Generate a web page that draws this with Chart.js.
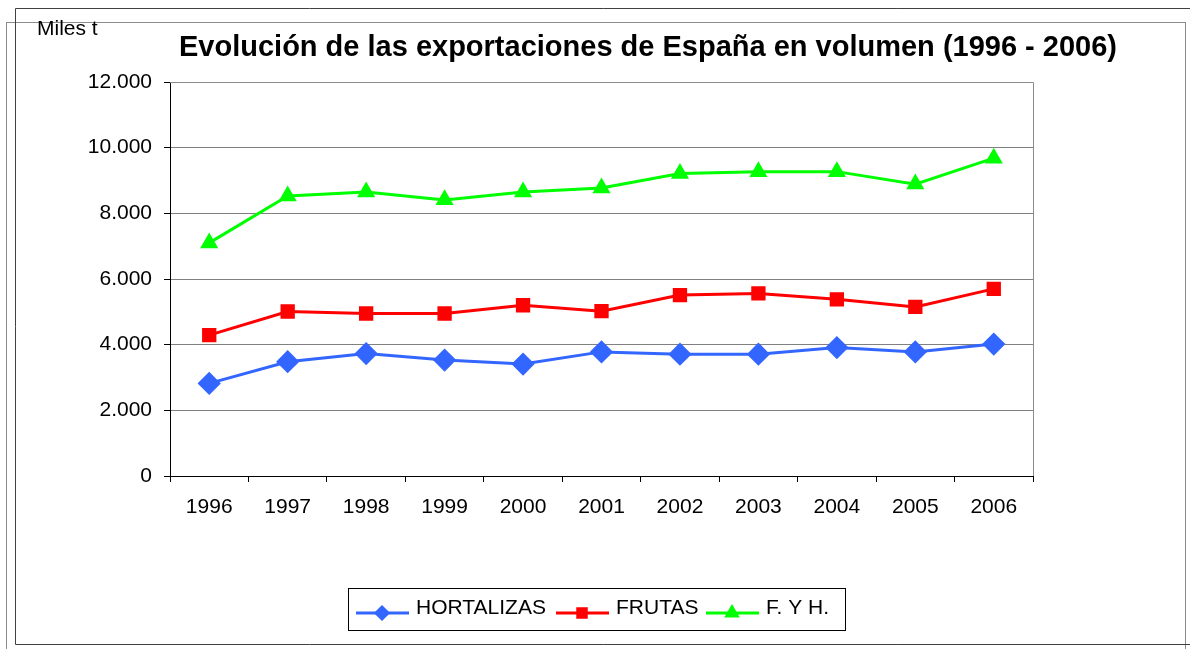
<!DOCTYPE html>
<html>
<head>
<meta charset="utf-8">
<script src="https://cdn.jsdelivr.net/npm/chart.js@4.4.0/dist/chart.umd.min.js"></script>
<style>
  html, body { margin: 0; padding: 0; background: #fff; }
  canvas { display: block; }
</style>
</head>
<body>
<canvas id="exportChart" width="1190" height="649"></canvas>
<script>
const years = ["1996", "1997", "1998", "1999", "2000", "2001", "2002", "2003", "2004", "2005", "2006"];
const hortalizas = [2820, 3480, 3730, 3530, 3410, 3780, 3710, 3710, 3910, 3780, 4020];
const frutas = [4290, 5010, 4950, 4950, 5200, 5020, 5510, 5560, 5380, 5150, 5700];
const fyh = [7100, 8530, 8650, 8410, 8650, 8770, 9210, 9270, 9270, 8890, 9680];

const titleText = "Evolución de las exportaciones de España en volumen (1996 - 2006)";
const unitText = "Miles t";

const fontFamily = "'Liberation Sans', Arial, sans-serif";

// thousands with a dot, like the spanish sheet
const fmt = v => String(v).replace(/\B(?=(\d{3})+(?!\d))/g, ".");

// frames, title, unit label and the boxed legend
const decor = {
    id: "decor",
    beforeDraw(chart) {
        const c = chart.ctx;
        c.save();
        c.lineWidth = 1;
        c.strokeStyle = "#8c8c8c";
        c.strokeRect(6.5, 22.5, 1179, 640);
        c.strokeStyle = "#404040";
        c.beginPath();
        c.moveTo(1195, 8.5); c.lineTo(15.5, 8.5); c.lineTo(15.5, 644.5); c.lineTo(1195, 644.5);
        c.stroke();
        c.restore();
    },
    afterDraw(chart) {
        const c = chart.ctx;
        const area = chart.chartArea;
        c.save();
        // top and right of the plot box
        c.strokeStyle = "#8c8c8c";
        c.lineWidth = 1;
        c.beginPath();
        c.moveTo(area.left, area.top + 0.5);
        c.lineTo(area.right + 0.5, area.top + 0.5);
        c.lineTo(area.right + 0.5, area.bottom);
        c.stroke();

        c.fillStyle = "#000";
        c.textBaseline = "middle";
        c.textAlign = "center";
        c.font = "bold 29px " + fontFamily;
        c.fillText(titleText, 648, 48);
        c.textAlign = "left";
        c.font = "21px " + fontFamily;
        c.fillText(unitText, 37, 29);

        // legend
        c.strokeStyle = "#000";
        c.strokeRect(348.5, 588.5, 497, 42);
        const starts = [356, 556, 706];
        c.font = "21px " + fontFamily;
        chart.data.datasets.forEach((ds, i) => {
            const x0 = starts[i];
            const y = 613;
            c.strokeStyle = ds.borderColor;
            c.lineWidth = 3;
            c.beginPath();
            c.moveTo(x0, y);
            c.lineTo(x0 + 53, y);
            c.stroke();
            c.fillStyle = ds.pointBackgroundColor;
            c.strokeStyle = ds.pointBorderColor;
            Chart.helpers.drawPoint(c, {
                pointStyle: ds.pointStyle,
                radius: ds.legendRadius,
                rotation: 0,
                borderWidth: 1
            }, x0 + 26, y);
            c.fillStyle = "#000";
            c.fillText(ds.label, x0 + 60, 608);
        });
        c.restore();
    }
};

const ctx = document.getElementById("exportChart").getContext("2d");
const exportChart = new Chart(ctx, {
    type: "line",
    data: {
        labels: years,
        datasets: [
            {
                label: "HORTALIZAS",
                data: hortalizas,
                borderColor: "#3366ff",
                pointBackgroundColor: "#3366ff",
                pointBorderColor: "#3366ff",
                pointStyle: "rectRot",
                pointRadius: 9.5,
                legendRadius: 6,
                borderWidth: 3
            },
            {
                label: "FRUTAS",
                data: frutas,
                borderColor: "#ff0000",
                pointBackgroundColor: "#ff0000",
                pointBorderColor: "#ff0000",
                pointStyle: "rect",
                pointRadius: 8,
                legendRadius: 6,
                borderWidth: 3
            },
            {
                label: "F. Y H.",
                data: fyh,
                borderColor: "#00ff00",
                pointBackgroundColor: "#00ff00",
                pointBorderColor: "#00ff00",
                pointStyle: "triangle",
                pointRadius: 7.5,
                legendRadius: 6,
                borderWidth: 3
            }
        ]
    },
    options: {
        responsive: false,
        devicePixelRatio: 1,
        animation: false,
        layout: { padding: { top: 82, right: 157, bottom: 133, left: 0 } },
        plugins: {
            legend: { display: false },
            title: { display: false },
            tooltip: { enabled: false }
        },
        elements: { line: { tension: 0 } },
        scales: {
            x: {
                offset: true,
                afterFit: scale => { scale.height = 40; },
                grid: { offset: true, drawOnChartArea: false, tickLength: 6, color: "#000" },
                border: { color: "#000", width: 1 },
                ticks: { color: "#000", padding: 13, font: { size: 21, family: fontFamily } }
            },
            y: {
                min: 0,
                max: 12000,
                afterFit: scale => { scale.width = 170; },
                grid: { color: "#808080", tickLength: 6, tickColor: "#000" },
                border: { color: "#000", width: 1 },
                ticks: {
                    stepSize: 2000,
                    color: "#000",
                    padding: 12,
                    font: { size: 21, family: fontFamily },
                    callback: v => fmt(v)
                }
            }
        }
    },
    plugins: [decor]
});
</script>
</body>
</html>
